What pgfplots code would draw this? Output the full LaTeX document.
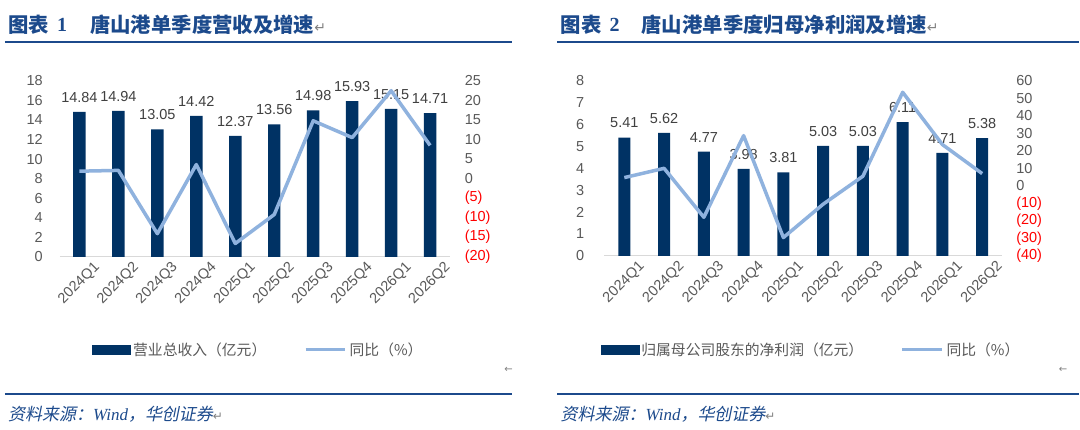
\documentclass[border=0pt]{standalone}
\usepackage{pgfplots}
\pgfplotsset{compat=1.18}
\usepackage{fontspec}
\setmainfont{Liberation Sans}
\newfontfamily\cjk{Noto Sans CJK SC}
\newfontfamily\cjkit[FakeSlant=0.2]{Noto Sans CJK SC}
\newfontfamily\serif{Liberation Serif}
\newfontfamily\dejavu{DejaVu Sans}
\definecolor{navy}{RGB}{0,50,100}
\definecolor{lblue}{RGB}{143,178,222}
\definecolor{tblue}{RGB}{28,74,140}
\definecolor{tickgray}{RGB}{89,89,89}
\definecolor{lblgray}{RGB}{64,64,64}
\definecolor{axgray}{RGB}{217,217,217}
\newcommand{\numfont}{\fontsize{14.5bp}{16bp}\selectfont}
\pgfplotsset{
  common/.style={
    scale only axis, xmin=-0.5, xmax=9.5,
    major tick length=0,
    tick label style={font=\numfont, text=tickgray},
    /pgf/number format/assume math mode=true,
    clip=false,
  },
  barax/.style={
    common,
    axis x line*=bottom, axis y line*=left,
    x axis line style={draw=axgray, line width=1.3bp, -},
    y axis line style={draw=none},
    xtick={0,...,9},
    xticklabels={2024Q1,2024Q2,2024Q3,2024Q4,2025Q1,2025Q2,2025Q3,2025Q4,2026Q1,2026Q2},
    xticklabel style={rotate=45, anchor=north east, inner sep=0pt, yshift=-12bp, xshift=7bp},
    ybar, bar width=12.5bp,
    point meta=explicit symbolic,
    nodes near coords,
    every node near coord/.append style={font=\numfont, text=lblgray, yshift=6bp},
  },
  lineax/.style={
    common,
    axis x line=none, axis y line*=right,
    y axis line style={draw=none},
    yticklabel style={anchor=west, inner sep=0pt},
    legend columns=2,
    legend style={draw=none, fill=none, inner sep=0pt, anchor=center,
      font=\fontsize{14.8bp}{16bp}\selectfont\cjk, text=tickgray,
      /tikz/every even column/.append style={column sep=35bp},
      nodes={inner sep=2.5bp}},
  },
}
\begin{document}
\begin{tikzpicture}
\fill[white] (0bp,0bp) rectangle (1080bp,430bp);
% ---------- titles and rules ----------
\node[anchor=west, inner sep=0, text=tblue, font=\fontsize{20.4bp}{24bp}\selectfont\cjk\bfseries] at (8bp,405bp) {图表};
\node[anchor=west, inner sep=0, text=tblue, font=\fontsize{20bp}{24bp}\selectfont\serif\bfseries] at (57bp,405bp) {1};
\node[anchor=west, inner sep=0, text=tblue, font=\fontsize{20.4bp}{24bp}\selectfont\cjk\bfseries] at (90bp,405bp) {唐山港单季度营收及增速{\dejavu\mdseries\fontsize{14bp}{16bp}\selectfont\textcolor{gray}{↵}}};
\node[anchor=west, inner sep=0, text=tblue, font=\fontsize{20.4bp}{24bp}\selectfont\cjk\bfseries] at (561bp,405bp) {图表};
\node[anchor=west, inner sep=0, text=tblue, font=\fontsize{20bp}{24bp}\selectfont\serif\bfseries] at (610bp,405bp) {2};
\node[anchor=west, inner sep=0, text=tblue, font=\fontsize{20.4bp}{24bp}\selectfont\cjk\bfseries] at (642bp,405bp) {唐山港单季度归母净利润及增速{\dejavu\mdseries\fontsize{14bp}{16bp}\selectfont\textcolor{gray}{↵}}};
\draw[tblue, line width=2bp] (5bp,388bp) -- (512bp,388bp);
\draw[tblue, line width=2bp] (558bp,388bp) -- (1080bp,388bp);
\draw[tblue, line width=2bp] (5bp,36bp) -- (512bp,36bp);
\draw[tblue, line width=2bp] (558bp,36bp) -- (1080bp,36bp);
\node[anchor=west, inner sep=0, text=tblue, font=\fontsize{17bp}{20bp}\selectfont] at (8bp,15bp) {\cjkit 资料来源：\serif\itshape Wind\cjkit ，华创证券\dejavu\upshape\fontsize{12bp}{14bp}\selectfont\textcolor{gray}{↵}};
\node[anchor=west, inner sep=0, text=tblue, font=\fontsize{17bp}{20bp}\selectfont] at (561bp,15bp) {\cjkit 资料来源：\serif\itshape Wind\cjkit ，华创证券\dejavu\upshape\fontsize{12bp}{14bp}\selectfont\textcolor{gray}{↵}};
\node[inner sep=0, text=gray, font=\dejavu\fontsize{10bp}{12bp}\selectfont] at (509bp,60bp) {←};
\node[inner sep=0, text=gray, font=\dejavu\fontsize{10bp}{12bp}\selectfont] at (1064bp,60bp) {←};
% ---------- left panel ----------
\begin{axis}[barax, at={(60bp,173bp)}, anchor=south west, width=390bp, height=176bp,
  ymin=0, ymax=18, ytick={0,2,...,18},
  yticklabels={0,2,4,6,8,10,12,14,16,18},
  yticklabel style={anchor=east, inner sep=0pt, xshift=-17bp}]
\addplot[fill=navy, draw=none] coordinates {
 (0,14.84) [14.84] (1,14.94) [14.94] (2,13.05) [13.05] (3,14.42) [14.42] (4,12.37) [12.37]
 (5,13.56) [13.56] (6,14.98) [14.98] (7,15.93) [15.93] (8,15.15) [15.15] (9,14.71) [14.71]};
\end{axis}
\begin{axis}[lineax, at={(60bp,173bp)}, anchor=south west, width=390bp, height=176bp,
  ymin=-20, ymax=25, ytick={-20,-15,...,25},
  yticklabels={\textcolor{red}{(20)},\textcolor{red}{(15)},\textcolor{red}{(10)},\textcolor{red}{(5)},0,5,10,15,20,25},
  yticklabel style={xshift=15bp},
  legend style={at={(0.51,-0.528)}}]
\addlegendimage{legend image code/.code={\fill[navy] (0bp,-4.5bp) rectangle (38bp,4.5bp);}}
\addlegendentry{营业总收入（亿元）}
\addplot[lblue, line width=3.5bp, line join=round,
  legend image code/.code={\draw[lblue, line width=3.5bp] (0bp,0bp) -- (40bp,0bp);}] coordinates {
 (0,1.9) (1,2.1) (2,-14.1) (3,3.6) (4,-16.6) (5,-9.2) (6,14.8) (7,10.5) (8,22.5) (9,8.5)};
\addlegendentry{同比（\%）}
\end{axis}
% ---------- right panel ----------
\begin{axis}[barax, at={(605bp,174bp)}, anchor=south west, width=398bp, height=175bp,
  ymin=0, ymax=8, ytick={0,1,...,8},
  yticklabels={0,1,2,3,4,5,6,7,8},
  yticklabel style={anchor=east, inner sep=0pt, xshift=-20bp},
  bar width=12bp]
\addplot[fill=navy, draw=none] coordinates {
 (0,5.41) [5.41] (1,5.62) [5.62] (2,4.77) [4.77] (3,3.98) [3.98] (4,3.81) [3.81]
 (5,5.03) [5.03] (6,5.03) [5.03] (7,6.11) [6.11] (8,4.71) [4.71] (9,5.38) [5.38]};
\end{axis}
\begin{axis}[lineax, at={(605bp,174bp)}, anchor=south west, width=398bp, height=175bp,
  ymin=-40, ymax=60, ytick={-40,-30,...,60},
  yticklabels={\textcolor{red}{(40)},\textcolor{red}{(30)},\textcolor{red}{(20)},\textcolor{red}{(10)},0,10,20,30,40,50,60},
  yticklabel style={xshift=14bp},
  legend style={at={(0.52,-0.537)}}]
\addlegendimage{legend image code/.code={\fill[navy] (0bp,-4.5bp) rectangle (38bp,4.5bp);}}
\addlegendentry{归属母公司股东的净利润（亿元）}
\addplot[lblue, line width=3.5bp, line join=round,
  legend image code/.code={\draw[lblue, line width=3.5bp] (0bp,0bp) -- (40bp,0bp);}] coordinates {
 (0,4.7) (1,10.0) (2,-18.0) (3,28.7) (4,-29.6) (5,-10.5) (6,5.5) (7,53.5) (8,23.6) (9,7.0)};
\addlegendentry{同比（\%）}
\end{axis}
\end{tikzpicture}
\end{document}
